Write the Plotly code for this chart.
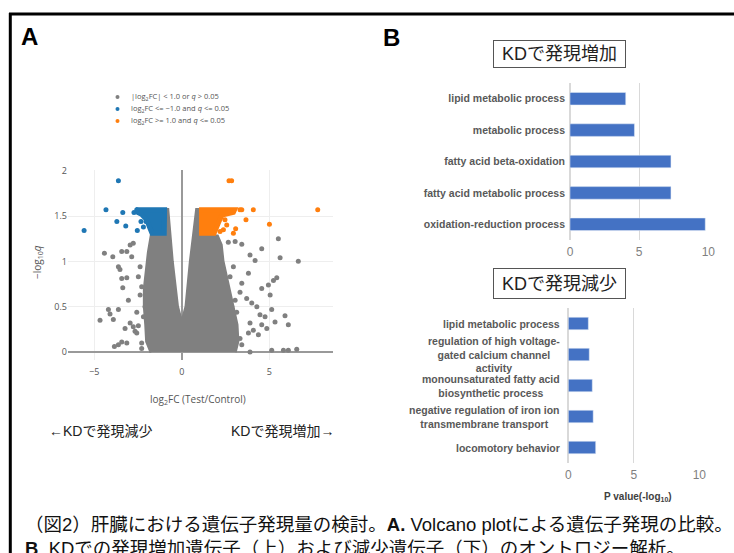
import plotly.graph_objects as go

W, H = 734, 553

# ---------------- data: volcano plot ----------------
# dense cloud outlines (data coords)
GREY_CLOUD_X = [-1.70, -1.95, -2.00, -2.08, -2.08, -1.98, -1.85, -1.70, -1.00, -0.95, -0.85, -0.60, -0.30, 0.00,
                0.30, 0.55, 0.80, 0.90, 0.98, 1.00, 2.00, 2.20, 2.30, 2.60, 2.90, 3.10, 3.15, 3.00]
GREY_CLOUD_Y = [0.00, 0.12, 0.30, 0.50, 0.70, 0.90, 1.10, 1.27, 1.27, 1.56, 1.56, 1.00, 0.50, 0.28,
                0.50, 1.00, 1.50, 1.56, 1.56, 1.27, 1.27, 1.18, 1.00, 0.75, 0.50, 0.30, 0.12, 0.00]
BLUE_CLOUD_X = [-2.62, -0.98, -1.00, -1.70, -1.85, -2.00, -2.30, -2.62]
BLUE_CLOUD_Y = [1.57, 1.57, 1.31, 1.31, 1.38, 1.46, 1.52, 1.55]
ORANGE_CLOUD_X = [0.99, 3.02, 2.95, 2.30, 2.15, 2.00, 1.85, 0.99]
ORANGE_CLOUD_Y = [1.57, 1.57, 1.54, 1.51, 1.45, 1.38, 1.31, 1.31]

GREY_X = [-4.67, -4.42, -3.94, -4.19, -3.62, -4.10, -3.91, -3.85, -3.62, -3.53, -3.62, -3.43, -3.14, -3.37,
          -3.43, -3.14, -2.95, -2.77, -2.86, -3.05, -2.95, -2.77, -2.48, -3.24, -3.43, -3.14, -2.57, -2.67,
          -2.29, -1.91, -2.57, -2.38, -2.29, -2.48, -2.38, -2.19, -2.10, -2.29,
          5.52, 6.66, 5.62, 4.57, 4.19, 3.90, 3.43, 3.05, 2.66, 2.95, 3.81, 5.43, 5.24, 4.95, 4.57, 3.43,
          3.33, 5.05, 3.71, 4.00, 4.29, 5.14, 5.90, 6.09, 5.33, 4.47, 4.76, 4.57, 4.86, 3.90, 4.09, 3.81,
          4.38, 3.33, 3.43, 3.90, 5.14, 5.81, 6.09, 6.57, 2.86, 3.05, 2.76, 3.14, 2.47, 2.76, 2.57]
GREY_Y = [0.35, 1.09, 1.05, 0.47, 0.47, 0.42, 0.36, 0.06, 0.08, 0.91, 0.94, 0.81, 0.82, 0.71,
          1.11, 1.11, 1.18, 1.20, 1.05, 0.57, 0.32, 0.28, 0.29, 0.26, 0.11, 0.10, 0.21, 0.23,
          0.10, 0.11, 0.44, 0.63, 0.72, 0.83, 0.94, 0.39, 0.50, 0.04,
          1.25, 1.00, 1.04, 1.14, 1.01, 1.07, 1.19, 1.22, 1.21, 0.94, 0.87, 0.82, 0.79, 0.74, 0.70, 0.76,
          0.66, 0.63, 0.59, 0.54, 0.50, 0.47, 0.40, 0.30, 0.33, 0.41, 0.39, 0.30, 0.26, 0.32, 0.24, 0.21,
          0.19, 0.15, 0.08, 0.00, 0.02, 0.02, 0.02, 0.03, 0.50, 0.57, 0.39, 0.44, 0.72, 0.83, 0.65]
BLUE_X = [-5.58, -3.62, -4.33, -3.37, -3.71, -3.20, -2.54, -2.33, -2.73, -2.57, -2.19, -2.04]
BLUE_Y = [1.34, 1.89, 1.57, 1.54, 1.44, 1.39, 1.34, 1.44, 1.54, 1.57, 1.38, 1.44]
ORANGE_X = [2.70, 2.85, 7.77, 4.09, 3.43, 3.33, 3.67, 5.01, 3.08, 2.95, 2.57, 2.38, 2.19, 2.47]
ORANGE_Y = [1.89, 1.89, 1.57, 1.57, 1.57, 1.57, 1.46, 1.41, 1.36, 1.31, 1.40, 1.35, 1.33, 1.46]

LEGEND_NAMES = ["|log<sub>2</sub>FC| &lt; 1.0 or <i>q</i> &gt; 0.05",
                "log<sub>2</sub>FC &lt;= \u22121.0 and <i>q</i> &lt;= 0.05",
                "log<sub>2</sub>FC &gt;= 1.0 and <i>q</i> &lt;= 0.05"]

# ---------------- data: GO bar charts ----------------
UP_TERMS = ["lipid metabolic process", "metabolic process", "fatty acid beta-oxidation",
            "fatty acid metabolic process", "oxidation-reduction process"]
UP_VALUES = [4.03, 4.66, 7.3, 7.3, 9.78]
DOWN_TERMS = ["lipid metabolic process", "regulation of high voltage-<br>gated calcium channel<br>activity",
              "monounsaturated fatty acid<br>biosynthetic process",
              "negative regulation of iron ion<br>transmembrane transport", "locomotory behavior"]
DOWN_VALUES = [1.53, 1.6, 1.83, 1.9, 2.09]
BAR_TICKS = [0, 5, 10]


def px(x):
    return x / W


def py(y):
    return 1 - y / H


GREY, BLUE, ORANGE = "#808080", "#1f77b4", "#ff7f0e"
BAR = "#4472c4"

fig = go.Figure()

fig.add_trace(go.Scatter(x=GREY_CLOUD_X, y=GREY_CLOUD_Y, mode="lines", fill="toself", fillcolor=GREY,
                         line=dict(color=GREY, width=5), showlegend=False, hoverinfo="skip",
                         xaxis="x", yaxis="y"))
fig.add_trace(go.Scatter(x=GREY_X, y=GREY_Y, mode="markers", marker=dict(color=GREY, size=5),
                         showlegend=False, xaxis="x", yaxis="y"))
for cx, cy, col in [(BLUE_CLOUD_X, BLUE_CLOUD_Y, BLUE), (ORANGE_CLOUD_X, ORANGE_CLOUD_Y, ORANGE)]:
    fig.add_trace(go.Scatter(x=cx, y=cy, mode="lines", fill="toself", fillcolor=col,
                             line=dict(color=col, width=5), showlegend=False, hoverinfo="skip",
                             xaxis="x", yaxis="y"))
fig.add_trace(go.Scatter(x=BLUE_X, y=BLUE_Y, mode="markers", marker=dict(color=BLUE, size=5),
                         showlegend=False, xaxis="x", yaxis="y"))
fig.add_trace(go.Scatter(x=ORANGE_X, y=ORANGE_Y, mode="markers", marker=dict(color=ORANGE, size=5),
                         showlegend=False, xaxis="x", yaxis="y"))

fig.add_trace(go.Bar(x=UP_VALUES, y=UP_TERMS, orientation="h", marker_color=BAR, width=0.4,
                     showlegend=False, xaxis="x2", yaxis="y2"))
fig.add_trace(go.Bar(x=DOWN_VALUES, y=DOWN_TERMS, orientation="h", marker_color=BAR, width=0.4,
                     showlegend=False, xaxis="x3", yaxis="y3"))

vol_font = dict(family="Open Sans, Liberation Sans, sans-serif", size=9, color="#555")
bar_tick_font = dict(family="Liberation Sans, Arial, sans-serif", size=12, color="#7f7f7f")
cat_font = dict(family="Liberation Sans, Arial, sans-serif", size=10.5, color="#595959", weight="bold")

fig.update_layout(
    width=W, height=H, margin=dict(l=0, r=0, t=0, b=0, autoexpand=False),
    paper_bgcolor="white", plot_bgcolor="white", showlegend=False,
    xaxis=dict(domain=[px(68), px(333.3)], range=[-6.5, 8.66], tickvals=[-5, 0, 5],
               showgrid=True, gridcolor="#eeeeee", zeroline=True, zerolinecolor="#999999",
               zerolinewidth=1.5, tickfont=vol_font, showline=False, anchor="y", ticks="",
               ticklabelstandoff=5, automargin=False),
    yaxis=dict(domain=[py(360), py(170)], range=[-0.088, 2.008], tickvals=[0, 0.5, 1, 1.5, 2],
               showgrid=True, gridcolor="#eeeeee", zeroline=True, zerolinecolor="#999999",
               zerolinewidth=1.5, tickfont=vol_font, anchor="x", ticks="", automargin=False),
    xaxis2=dict(domain=[px(570), px(708.3)], range=[0, 10], tickvals=BAR_TICKS, anchor="y2",
                showgrid=True, gridcolor="#d9d9d9", zeroline=True, zerolinecolor="#d9d9d9",
                tickfont=bar_tick_font, ticks="", ticklabelstandoff=3, automargin=False),
    yaxis2=dict(domain=[py(240), py(83)], autorange="reversed", anchor="x2", showgrid=False,
                tickfont=cat_font, ticks="", ticklabelstandoff=4, automargin=False),
    xaxis3=dict(domain=[px(568.3), px(699.3)], range=[0, 10], tickvals=BAR_TICKS, anchor="y3",
                showgrid=True, gridcolor="#d9d9d9", zeroline=True, zerolinecolor="#d9d9d9",
                tickfont=bar_tick_font, ticks="", ticklabelstandoff=3, automargin=False),
    yaxis3=dict(domain=[py(463), py(308)], autorange="reversed", anchor="x3", showgrid=False,
                showticklabels=False, ticks="", automargin=False),
)

shapes = [
    dict(type="line", xref="paper", yref="paper", x0=px(9), x1=px(760), y0=py(14), y1=py(14),
         line=dict(color="black", width=3)),
    dict(type="line", xref="paper", yref="paper", x0=px(10.3), x1=px(10.3), y0=py(13), y1=py(600),
         line=dict(color="black", width=3)),
]
legend_cols = [GREY, BLUE, ORANGE]
legend_rows = [97, 109, 121]
annotations = []
for name, col, ry in zip(LEGEND_NAMES, legend_cols, legend_rows):
    shapes.append(dict(type="circle", xref="paper", yref="paper", xsizemode="pixel", ysizemode="pixel",
                       xanchor=px(117.5), yanchor=py(ry), x0=-2, x1=2, y0=-2, y1=2,
                       fillcolor=col, line=dict(width=0)))
    annotations.append(dict(text=name, x=px(129), y=py(ry), xanchor="left",
                            font=dict(family="Open Sans, Liberation Sans, sans-serif", size=7.5, color="#555")))

# centred multi-line category labels of the lower bar chart
for term in DOWN_TERMS:
    annotations.append(dict(text=term, xref="x3 domain", yref="y3", x=-0.045, y=term,
                            xanchor="right", align="center", font=cat_font))

cjk = "Liberation Sans, Noto Sans CJK JP, sans-serif"
annotations += [
    dict(text="<b>A</b>", x=px(29.5), y=py(36.5), font=dict(family="Liberation Sans, Arial", size=24, color="black")),
    dict(text="<b>B</b>", x=px(391.5), y=py(37.5), font=dict(family="Liberation Sans, Arial", size=24, color="black")),
    dict(text="log<sub>2</sub>FC (Test/Control)", x=px(198), y=py(399),
         font=dict(family="Open Sans, Liberation Sans, sans-serif", size=10, color="#555")),
    dict(text="\u2212log<sub>10</sub><i>q</i>", x=px(37), y=py(262), textangle=-90,
         font=dict(family="Open Sans, Liberation Sans, sans-serif", size=10, color="#555")),
    dict(text="\u2190KDで発現減少", x=px(100), y=py(431), font=dict(family=cjk, size=14, color="#222")),
    dict(text="KDで発現増加\u2192", x=px(282), y=py(431), font=dict(family=cjk, size=14, color="#222")),
    dict(text="KDで発現増加", x=px(559.3), y=py(54), width=131, height=26, borderpad=0,
         bordercolor="#555", borderwidth=1, font=dict(family=cjk, size=18, color="#222")),
    dict(text="KDで発現減少", x=px(559.5), y=py(283), width=131, height=29, borderpad=0,
         bordercolor="#555", borderwidth=1, font=dict(family=cjk, size=18, color="#222")),
    dict(text="<b>P value(-log<sub>10</sub>)</b>", x=px(638), y=py(497),
         font=dict(family="Liberation Sans, Arial", size=10, color="#404040")),
    dict(text="（図2）肝臓における遺伝子発現量の検討。<b>A.</b> Volcano plotによる遺伝子発現の比較。<br>"
              "<b>B</b>. KDでの発現増加遺伝子（上）および減少遺伝子（下）のオントロジー解析。",
         x=px(23), y=py(512), xanchor="left", yanchor="top", align="left",
         font=dict(family="Liberation Sans, Noto Sans CJK JP, sans-serif", size=18.5, color="#111")),
]
for a in annotations:
    a.setdefault("xref", "paper")
    a.setdefault("yref", "paper")
    a.setdefault("showarrow", False)
    a.setdefault("xanchor", "center")
    a.setdefault("yanchor", "middle")

fig.update_layout(shapes=shapes, annotations=annotations)
fig.write_html("out.html", config={"displayModeBar": False},
               post_script="document.body.style.margin='0px';")
